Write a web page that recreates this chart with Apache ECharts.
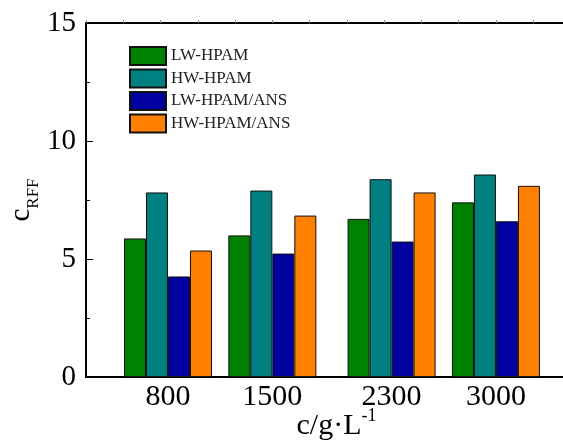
<!DOCTYPE html>
<html>
<head>
<meta charset="utf-8">
<script src="https://cdn.jsdelivr.net/npm/echarts@6/dist/echarts.min.js"></script>
<style>
  html, body { margin: 0; padding: 0; background: #fff; }
  #chart { width: 563px; height: 445px; }
</style>
</head>
<body>
<div id="chart"></div>
<script>
// Concentrations (g/L) and resistance factor values per polymer system
const concentrations = [800, 1500, 2300, 3000];
const seriesNames = ['LW-HPAM', 'HW-HPAM', 'LW-HPAM/ANS', 'HW-HPAM/ANS'];
const lwHpam = [5.87, 6.0, 6.7, 7.4];
const hwHpam = [7.82, 7.9, 8.38, 8.58];
const lwHpamAns = [4.26, 5.23, 5.74, 6.6];
const hwHpamAns = [5.36, 6.84, 7.82, 8.1];
const yTicks = [0, 5, 10, 15];
const topTicks = [250, 500, 750, 1000, 1250, 1500, 1750, 2000, 2250, 2500, 2750, 3000, 3250];

const colors = ['#008000', '#008080', '#0000A0', '#FF8000'];
const FONT = '"Liberation Serif", "Times New Roman", serif';

const values = [lwHpam, hwHpam, lwHpamAns, hwHpamAns];

const chart = echarts.init(document.getElementById('chart'));

const series = seriesNames.map((name, i) => ({
  name: name,
  type: 'bar',
  barWidth: 22,
  barGap: '0%',
  data: concentrations.map((c, j) => [c, values[i][j]]),
  itemStyle: { color: colors[i], borderColor: '#111', borderWidth: 1 }
}));

chart.setOption({
  animation: false,
  backgroundColor: '#fff',
  grid: { left: 86, right: 0, top: 23, bottom: 68, outerBoundsMode: 'none', containLabel: false },
  legend: {
    orient: 'vertical',
    left: 129,
    top: 46,
    padding: 0,
    itemWidth: 36,
    itemHeight: 18,
    itemGap: 2.5,
    icon: 'rect',
    data: seriesNames,
    textStyle: { fontFamily: FONT, fontSize: 17, color: '#222' }
  },
  xAxis: [
    {
      type: 'value',
      position: 'bottom',
      min: 250,
      max: 3450,
      splitLine: { show: false },
      axisLine: { show: true, onZero: false, lineStyle: { color: '#000', width: 2 } },
      axisTick: { show: false },
      axisLabel: {
        customValues: concentrations,
        formatter: (v) => String(v),
        margin: 5,
        fontFamily: FONT,
        fontSize: 30,
        color: '#000'
      },
      name: '{m|c/g·L}{sup|-1}',
      nameLocation: 'middle',
      nameGap: 30,
      nameMoveOverlap: false,
      nameTextStyle: {
        padding: [0, 0, 0, 24],
        rich: {
          m: { fontFamily: FONT, fontSize: 30, color: '#000', verticalAlign: 'bottom' },
          sup: { fontFamily: FONT, fontSize: 18, color: '#000', verticalAlign: 'bottom', padding: [0, 0, 16, 0] }
        }
      }
    },
    {
      type: 'value',
      position: 'top',
      min: 250,
      max: 3450,
      splitLine: { show: false },
      axisLine: { show: true, onZero: false, lineStyle: { color: '#000', width: 2 } },
      axisTick: {
        show: true,
        customValues: topTicks,
        inside: false,
        length: 3,
        lineStyle: { color: '#888', width: 1 }
      },
      axisLabel: { show: false }
    }
  ],
  yAxis: {
    type: 'value',
    min: 0,
    max: 15,
    interval: 5,
    splitLine: { show: false },
    axisLine: { show: true, onZero: false, lineStyle: { color: '#000', width: 2 } },
    axisTick: { show: true, inside: true, length: 7, lineStyle: { color: '#000', width: 1 } },
    minorTick: { show: true, splitNumber: 2, length: 4, lineStyle: { color: '#000', width: 1 } },
    axisLabel: {
      customValues: yTicks,
      margin: 10,
      fontFamily: FONT,
      fontSize: 29,
      color: '#000'
    },
    name: '{c|c}{sub|RFF}',
    nameLocation: 'middle',
    nameRotate: 90,
    nameGap: 44,
    nameMoveOverlap: false,
    nameTextStyle: {
      rich: {
        c: { fontFamily: FONT, fontSize: 29, color: '#000', verticalAlign: 'bottom', padding: [0, 0, 6, 0] },
        sub: { fontFamily: FONT, fontSize: 17, color: '#000', verticalAlign: 'bottom' }
      }
    }
  },
  series: series
});
</script>
</body>
</html>
